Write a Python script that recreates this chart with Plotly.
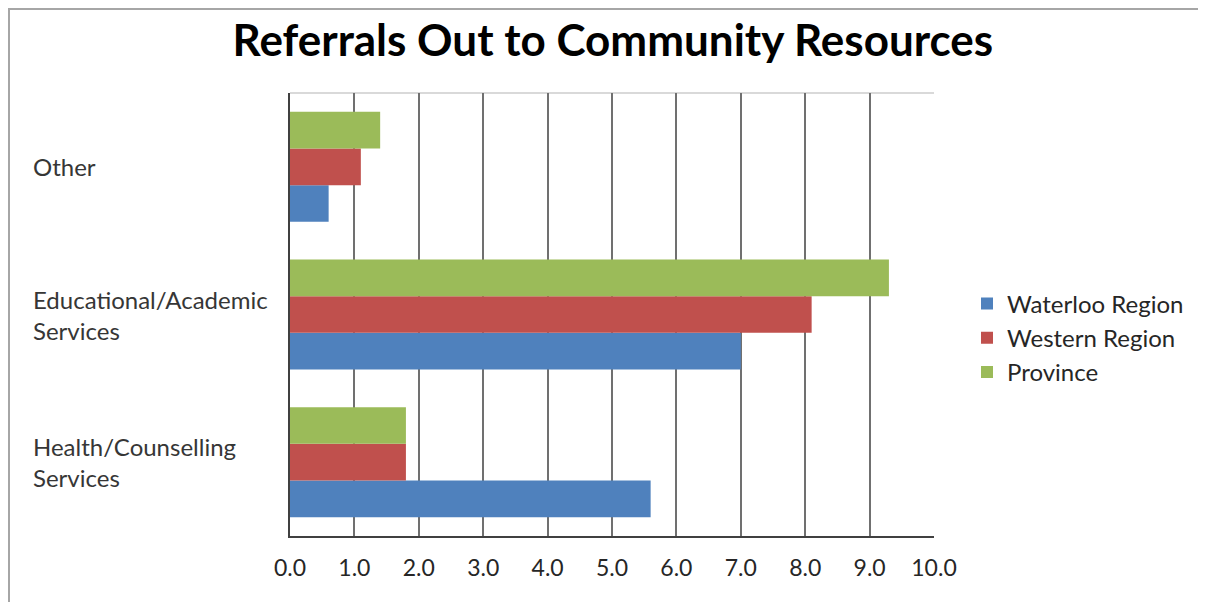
import plotly.graph_objects as go

categories = ["Health/Counselling Services", "Educational/Academic Services", "Other"]
category_labels = ["Health/Counselling<br>Services", "Educational/Academic<br>Services", "Other"]
series_names = ["Waterloo Region", "Western Region", "Province"]
waterloo = [5.6, 7.0, 0.6]
western = [1.8, 8.1, 1.1]
province = [1.8, 9.3, 1.4]
x_ticks = [0, 1, 2, 3, 4, 5, 6, 7, 8, 9, 10]
x_tick_labels = ["0.0", "1.0", "2.0", "3.0", "4.0", "5.0", "6.0", "7.0", "8.0", "9.0", "10.0"]
colors = ["#4f81bd", "#c0504d", "#9bbb59"]

W, H = 1206, 602
ML, MR, MT, MB = 282, 280, 85, 74
PW, PH = W - ML - MR, H - MT - MB

def px_x(p):
    return (p - ML) / PW

def px_y(p):
    return 1 - (p - MT) / PH

fig = go.Figure()
for name, vals, c in zip(series_names, [waterloo, western, province], colors):
    fig.add_trace(go.Bar(
        y=categories, x=vals, name=name, orientation="h",
        marker=dict(color=c, line=dict(width=0)),
    ))

font = "Lato, 'Open Sans', sans-serif"

for cat, lab in zip(categories, category_labels):
    fig.add_annotation(
        x=px_x(23), xref="paper", y=cat, yref="y",
        text=lab, showarrow=False, xanchor="left", align="left",
        font=dict(family=font, size=24, color="#363636"),
    )

# outer chart border (top and left visible)
fig.add_shape(type="line", xref="paper", yref="paper",
              x0=px_x(0), x1=px_x(1210), y0=px_y(1), y1=px_y(1),
              line=dict(color="#a6a6a6", width=2))
fig.add_shape(type="line", xref="paper", yref="paper",
              x0=px_x(1), x1=px_x(1), y0=px_y(0), y1=px_y(610),
              line=dict(color="#a6a6a6", width=2))
# light top border of plot area
fig.add_shape(type="line", xref="paper", yref="paper",
              x0=0, x1=1, y0=1, y1=1,
              line=dict(color="#d9d9d9", width=2), layer="below")

fig.update_layout(
    width=W, height=H,
    margin=dict(l=ML, r=MR, t=MT, b=MB),
    paper_bgcolor="white", plot_bgcolor="white",
    barmode="group", bargap=0.255, bargroupgap=0,
    title=dict(text="<b>Referrals Out to Community Resources</b>",
               x=px_x(605), xanchor="center", y=1 - 33 / H, yanchor="middle",
               font=dict(family=font, size=44, color="#000000")),
    xaxis=dict(range=[0, 10], tickvals=x_ticks, ticktext=x_tick_labels,
               showgrid=True, gridcolor="#707070", gridwidth=2,
               showline=True, linecolor="#404040", linewidth=2,
               zeroline=False, ticks="", ticklen=0, ticklabelstandoff=10,
               tickfont=dict(family=font, size=23, color="#262626")),
    yaxis=dict(showticklabels=False, showgrid=False, zeroline=False,
               showline=True, linecolor="#404040", linewidth=2, ticks=""),
    legend=dict(x=px_x(959), xanchor="left", y=px_y(330), yanchor="middle",
                traceorder="normal", bgcolor="rgba(0,0,0,0)",
                font=dict(family=font, size=24, color="#262626"),
                itemwidth=30),
    showlegend=True,
)

fig.write_html("out.html")
